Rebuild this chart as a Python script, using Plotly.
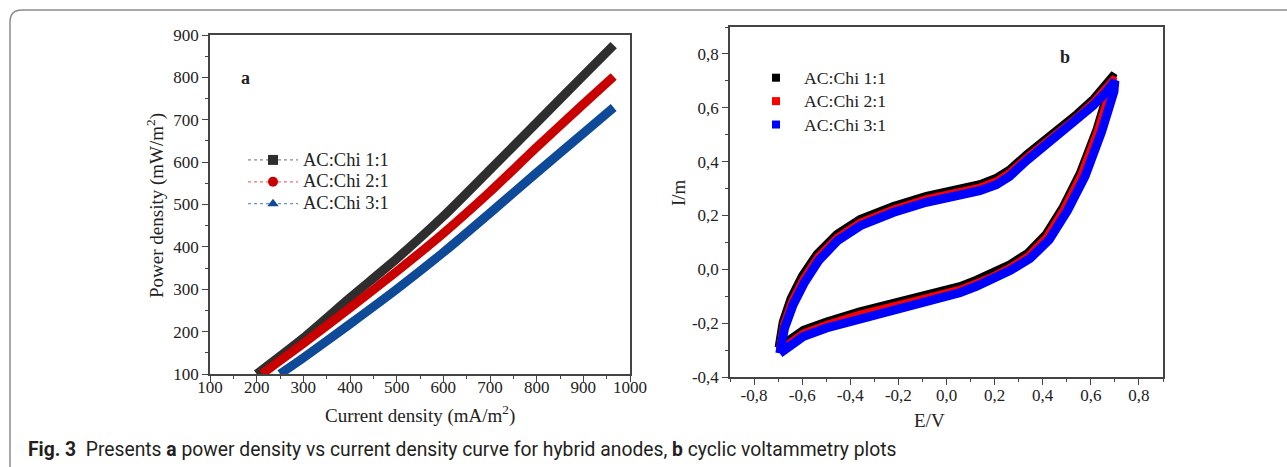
import plotly.graph_objects as go

W, H = 1287, 467

# ---------------- data : panel a (power density vs current density) ----------------
series_names = ["AC:Chi 1:1", "AC:Chi 2:1", "AC:Chi 3:1"]

current_11 = [200, 300, 400, 500, 600, 700, 800, 900, 965]
power_11 = [100, 185, 280, 372, 472, 582, 693, 804, 876]
current_21 = [211, 300, 400, 500, 600, 700, 800, 900, 965]
power_21 = [100, 172, 256, 342, 432, 530, 635, 737, 802]
current_31 = [250, 300, 400, 500, 600, 700, 800, 900, 965]
power_31 = [100, 138, 218, 300, 387, 480, 575, 668, 729]

a_xticks = [100, 200, 300, 400, 500, 600, 700, 800, 900, 1000]
a_yticks = [100, 200, 300, 400, 500, 600, 700, 800, 900]

# ---------------- data : panel b (cyclic voltammetry) ----------------
E_11 = [-0.700, -0.683, -0.650, -0.603, -0.541, -0.458, -0.361, -0.222, -0.084, 0.055, 0.138, 0.207,
        0.262, 0.332, 0.401, 0.470, 0.540, 0.609, 0.664, 0.697,
        0.676, 0.621, 0.552, 0.482, 0.410, 0.335, 0.262, 0.193, 0.124, 0.055, -0.084, -0.222,
        -0.361, -0.499, -0.596, -0.652, -0.680, -0.700]
I_11 = [-0.290, -0.195, -0.108, -0.024, 0.058, 0.132, 0.188, 0.237, 0.275, 0.300, 0.318, 0.342,
        0.373, 0.429, 0.478, 0.528, 0.578, 0.634, 0.689, 0.727,
        0.680, 0.518, 0.357, 0.233, 0.130, 0.062, 0.020, -0.012, -0.037, -0.061, -0.092, -0.123,
        -0.154, -0.192, -0.223, -0.258, -0.276, -0.290]

E_21 = [-0.697, -0.679, -0.645, -0.597, -0.537, -0.456, -0.360, -0.222, -0.084, 0.055, 0.138, 0.207,
        0.262, 0.332, 0.401, 0.470, 0.540, 0.609, 0.666, 0.699,
        0.680, 0.626, 0.557, 0.486, 0.413, 0.337, 0.262, 0.193, 0.124, 0.055, -0.084, -0.222,
        -0.361, -0.499, -0.596, -0.650, -0.677, -0.697]
I_21 = [-0.298, -0.203, -0.117, -0.033, 0.048, 0.121, 0.177, 0.226, 0.264, 0.289, 0.307, 0.331,
        0.362, 0.418, 0.467, 0.517, 0.567, 0.623, 0.677, 0.714,
        0.676, 0.516, 0.352, 0.226, 0.121, 0.051, 0.009, -0.023, -0.048, -0.072, -0.103, -0.134,
        -0.165, -0.203, -0.234, -0.269, -0.286, -0.298]

E_31 = [-0.693, -0.673, -0.638, -0.590, -0.530, -0.452, -0.358, -0.222, -0.084, 0.055, 0.138, 0.207,
        0.262, 0.332, 0.401, 0.470, 0.540, 0.609, 0.668, 0.700,
        0.696, 0.645, 0.576, 0.503, 0.427, 0.347, 0.266, 0.193, 0.124, 0.055, -0.084, -0.222,
        -0.361, -0.499, -0.596, -0.645, -0.672, -0.693]
I_31 = [-0.312, -0.218, -0.132, -0.048, 0.034, 0.107, 0.162, 0.211, 0.249, 0.274, 0.292, 0.314,
        0.345, 0.403, 0.452, 0.502, 0.552, 0.608, 0.662, 0.700,
        0.660, 0.512, 0.346, 0.218, 0.110, 0.040, -0.004, -0.038, -0.063, -0.087, -0.118, -0.149,
        -0.180, -0.218, -0.250, -0.283, -0.302, -0.312]

b_xticks = [-0.8, -0.6, -0.4, -0.2, 0.0, 0.2, 0.4, 0.6, 0.8]
b_xlabels = ["-0,8", "-0,6", "-0,4", "-0,2", "0,0", "0,2", "0,4", "0,6", "0,8"]
b_yticks = [-0.4, -0.2, 0.0, 0.2, 0.4, 0.6, 0.8]
b_ylabels = ["-0,4", "-0,2", "0,0", "0,2", "0,4", "0,6", "0,8"]

caption = ("<b>Fig. 3</b>  Presents <b>a</b> power density vs current density curve for hybrid anodes, "
           "<b>b</b> cyclic voltammetry plots")

# ---------------- styling ----------------
SERIF = "Liberation Serif, Times New Roman, serif"
a_colors = ["#2e2e2e", "#c80000", "#0f4a98"]
a_legend_line = ["#8a8a8a", "#f07070", "#7090d0"]
a_symbols = ["square", "circle", "triangle-up"]
b_colors = ["#000000", "#ff0000", "#0000ff"]

def big(label, px):
    return '<span style="font-size:%spx">%s</span>' % (px, label)

fig = go.Figure()

# panel a curves
for xs, ys, c in [(current_11, power_11, a_colors[0]),
                  (current_21, power_21, a_colors[1]),
                  (current_31, power_31, a_colors[2])]:
    fig.add_trace(go.Scatter(x=xs, y=ys, mode="lines", line=dict(color=c, width=9, shape="spline", smoothing=0.6),
                             showlegend=False, xaxis="x", yaxis="y", hoverinfo="skip"))
# panel a legend entries
for name, c, lc, s in zip(series_names, a_colors, a_legend_line, a_symbols):
    fig.add_trace(go.Scatter(x=[None], y=[None], mode="lines+markers", name=big(name, 18.5),
                             line=dict(color=lc, width=1.2, dash="dot"),
                             marker=dict(symbol=s, color=c, size=10),
                             xaxis="x", yaxis="y", legend="legend"))

# panel b curves
for xs, ys, c, w in [(E_11, I_11, b_colors[0], 7), (E_21, I_21, b_colors[1], 6), (E_31, I_31, b_colors[2], 9)]:
    fig.add_trace(go.Scatter(x=xs, y=ys, mode="lines", line=dict(color=c, width=w),
                             showlegend=False, xaxis="x2", yaxis="y2", hoverinfo="skip"))
for name, c in zip(series_names, b_colors):
    fig.add_trace(go.Scatter(x=[None], y=[None], mode="markers", name=big(name, 17.7),
                             marker=dict(symbol="square", color=c, size=8),
                             xaxis="x2", yaxis="y2", legend="legend2"))

def dom_x(a, b):
    return [a / W, b / W]

def dom_y(top, bottom):
    return [1 - bottom / H, 1 - top / H]

tickfont = dict(family=SERIF, size=17, color="#222")
axis_common = dict(showline=True, linecolor="#444", linewidth=1.5, mirror=True, showgrid=False,
                   zeroline=False, ticks="outside", ticklen=6, tickwidth=1.3, tickcolor="#444",
                   tickfont=tickfont, automargin=False)

fig.update_layout(
    template="none",
    width=W, height=H, margin=dict(l=0, r=0, t=0, b=0, pad=0, autoexpand=False),
    paper_bgcolor="white", plot_bgcolor="white",
    xaxis=dict(domain=dom_x(210, 630), range=[100, 1000], tickmode="array", tickvals=a_xticks,
               minor=dict(ticks="outside", ticklen=3, tickcolor="#444", dtick=50, tick0=150),
               anchor="y", **axis_common),
    yaxis=dict(domain=dom_y(35, 374), range=[100, 900], tickmode="array", tickvals=a_yticks,
               minor=dict(ticks="outside", ticklen=3, tickcolor="#444", dtick=50, tick0=150),
               anchor="x", **axis_common),
    xaxis2=dict(domain=dom_x(730, 1163), range=[-0.9, 0.9], tickmode="array", tickvals=b_xticks,
                ticktext=b_xlabels,
                minor=dict(ticks="outside", ticklen=3, tickcolor="#444", dtick=0.1, tick0=-0.9),
                anchor="y2", **axis_common),
    yaxis2=dict(domain=dom_y(27, 377), range=[-0.4, 0.9], tickmode="array", tickvals=b_yticks,
                ticktext=b_ylabels,
                minor=dict(ticks="outside", ticklen=3, tickcolor="#444", dtick=0.1, tick0=-0.5),
                anchor="x2", **axis_common),
    legend=dict(x=243 / W, y=1 - 144 / H, xanchor="left", yanchor="top", bgcolor="rgba(0,0,0,0)",
                font=dict(family=SERIF, size=14.5, color="#222"), tracegroupgap=0, itemwidth=50,
                borderwidth=0),
    legend2=dict(x=748 / W, y=1 - 61 / H, xanchor="left", yanchor="top", bgcolor="rgba(0,0,0,0)",
                 font=dict(family=SERIF, size=15.7, color="#222"), tracegroupgap=0, itemwidth=46,
                 borderwidth=0),
)

try:
    fig.update_layout(xaxis_ticklabelstandoff=-9, xaxis2_ticklabelstandoff=-4)
except Exception:
    pass

def ann(text, xpx, ypx, size=19, bold=False, angle=0, family=SERIF, xanchor="center", color="#222"):
    fig.add_annotation(text=("<b>%s</b>" % text) if bold else text, x=xpx / W, y=1 - ypx / H,
                       xref="paper", yref="paper", showarrow=False, xanchor=xanchor, yanchor="middle",
                       textangle=angle, font=dict(family=family, size=size, color=color))

ann("Current density (mA/m<sup>2</sup>)", 420, 414)
ann("Power density (mW/m<sup>2</sup>)", 155, 206, angle=-90)
ann("E/V", 929, 420)
ann("I/m", 678, 193, angle=-90)
ann("a", 245, 78, size=18, bold=True)
ann("b", 1065, 57, size=18, bold=True)
ann(caption, 26, 449, size=19.3, family="Roboto, sans-serif", xanchor="left", color="#231f20")

# figure frame with rounded top-left corner
r = 12
fig.add_shape(type="path", xref="paper", yref="paper",
              path="M %f,%f L %f,%f Q %f,%f %f,%f L %f,%f" % (
                  10 / W, 0, 10 / W, 1 - (10 + r) / H, 10 / W, 1 - 10 / H, (10 + r) / W, 1 - 10 / H,
                  1, 1 - 10 / H),
              line=dict(color="#8c8c8c", width=1.5))

fig.write_html("out.html", config={"displayModeBar": False},
               post_script="document.body.style.margin='0px';document.body.style.overflow='hidden';")
